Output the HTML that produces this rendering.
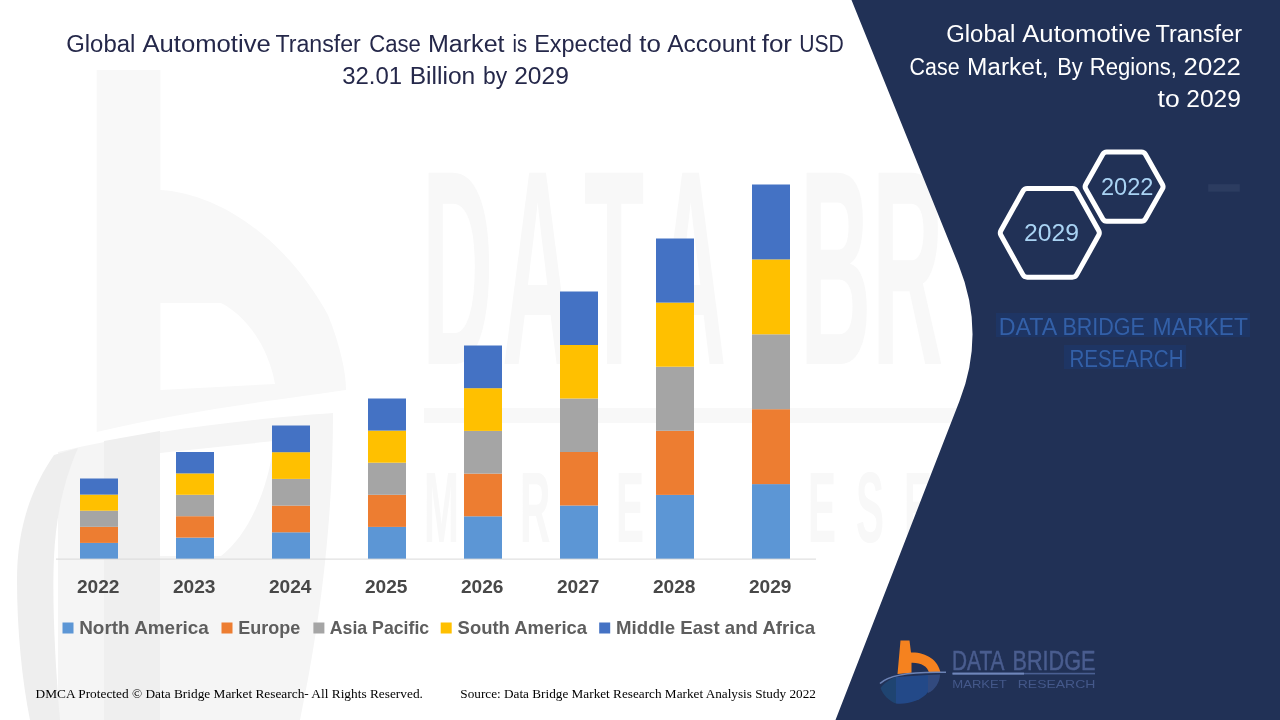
<!DOCTYPE html>
<html lang="en">
<head>
<meta charset="utf-8">
<title>Global Automotive Transfer Case Market</title>
<style>
  html, body { margin: 0; padding: 0; background: #ffffff; }
  body { width: 1280px; height: 720px; overflow: hidden; }
  svg { display: block; }
  .sans { font-family: "Liberation Sans", sans-serif; }
  .serif { font-family: "Liberation Serif", serif; }
</style>
</head>
<body>
<svg width="1280" height="720" viewBox="0 0 1280 720">
  <rect x="0" y="0" width="1280" height="720" fill="#ffffff"/>

  <!-- faint watermark -->
  <g id="watermark" fill="#f8f8f8">
    <path d="M96.7,70 L160.4,70 L160.4,190 C225,194 290,245 328,315 C340,345 346,372 346,390 C290,398 180,412 96.7,432 Z M160.4,303 L221,303 C245,315 268,345 275,384 L160.4,390 Z" fill-rule="evenodd"/>
    <path d="M58,452 C150,430 260,418 333,413 C333,500 325,600 300,720 L58,720 Z M160,453 L274,441 C268,495 245,538 221,556 L160,556 Z" fill-rule="evenodd" fill="#f5f5f5"/>
    <path d="M104,441 L160,431 L160,720 L104,720 Z" fill="#efefef"/>
    <path d="M54,455 C30,490 17,530 17,580 C17,630 22,680 30,720 L60,720 C55,660 52,600 54,557 C56,515 64,480 78,448 Z" fill="#eeeeee"/>
    <g class="sans" font-weight="bold" fill="#f8f8f8">
      <text transform="scale(0.355,1)" x="1188.7 1414.1 1645.1 1845.1 2140.8 2253.5 2456.3" y="364" font-size="278">DATA BR</text>
      <rect x="424" y="408" width="560" height="15"/>
      <text transform="scale(0.42,1)" x="1009.5 1123.8 1238.1 1352.4 1466.7 1581.0 1695.2 1809.5 1923.8 2038.1 2152.4" y="542" font-size="100">MARKET RESE</text>
    </g>
  </g>

  <!-- left title -->
  <g class="sans" fill="#25284a" font-size="23">
    <text y="52.4"><tspan x="66.20" textLength="69.10" lengthAdjust="spacingAndGlyphs">Global</tspan> <tspan x="142.45" textLength="128.35" lengthAdjust="spacingAndGlyphs">Automotive</tspan> <tspan x="275.45" textLength="85.35" lengthAdjust="spacingAndGlyphs">Transfer</tspan> <tspan x="369.20" textLength="51.60" lengthAdjust="spacingAndGlyphs">Case</tspan> <tspan x="427.95" textLength="76.60" lengthAdjust="spacingAndGlyphs">Market</tspan> <tspan x="512.45" textLength="14.60" lengthAdjust="spacingAndGlyphs">is</tspan> <tspan x="534.20" textLength="97.85" lengthAdjust="spacingAndGlyphs">Expected</tspan> <tspan x="639.20" textLength="21.60" lengthAdjust="spacingAndGlyphs">to</tspan> <tspan x="667.20" textLength="88.60" lengthAdjust="spacingAndGlyphs">Account</tspan> <tspan x="761.70" textLength="30.35" lengthAdjust="spacingAndGlyphs">for</tspan> <tspan x="799.20" textLength="44.60" lengthAdjust="spacingAndGlyphs">USD</tspan></text>
    <text y="83.7"><tspan x="342.20" textLength="59.85" lengthAdjust="spacingAndGlyphs">32.01</tspan> <tspan x="409.70" textLength="65.60" lengthAdjust="spacingAndGlyphs">Billion</tspan> <tspan x="482.95" textLength="24.10" lengthAdjust="spacingAndGlyphs">by</tspan> <tspan x="514.20" textLength="54.60" lengthAdjust="spacingAndGlyphs">2029</tspan></text>
  </g>

  <!-- chart -->
  <g id="chart">
    <rect x="80" y="542.9" width="38" height="16.1" fill="#5c96d5"/>
    <rect x="80" y="526.8" width="38" height="16.1" fill="#ed7d31"/>
    <rect x="80" y="510.7" width="38" height="16.1" fill="#a5a5a5"/>
    <rect x="80" y="494.6" width="38" height="16.1" fill="#ffc000"/>
    <rect x="80" y="478.5" width="38" height="16.1" fill="#4472c4"/>
    <rect x="176" y="537.6" width="38" height="21.4" fill="#5c96d5"/>
    <rect x="176" y="516.2" width="38" height="21.4" fill="#ed7d31"/>
    <rect x="176" y="494.8" width="38" height="21.4" fill="#a5a5a5"/>
    <rect x="176" y="473.4" width="38" height="21.4" fill="#ffc000"/>
    <rect x="176" y="452.0" width="38" height="21.4" fill="#4472c4"/>
    <rect x="272" y="532.3" width="38" height="26.7" fill="#5c96d5"/>
    <rect x="272" y="505.6" width="38" height="26.7" fill="#ed7d31"/>
    <rect x="272" y="478.9" width="38" height="26.7" fill="#a5a5a5"/>
    <rect x="272" y="452.2" width="38" height="26.7" fill="#ffc000"/>
    <rect x="272" y="425.5" width="38" height="26.7" fill="#4472c4"/>
    <rect x="368" y="526.9" width="38" height="32.1" fill="#5c96d5"/>
    <rect x="368" y="494.8" width="38" height="32.1" fill="#ed7d31"/>
    <rect x="368" y="462.7" width="38" height="32.1" fill="#a5a5a5"/>
    <rect x="368" y="430.6" width="38" height="32.1" fill="#ffc000"/>
    <rect x="368" y="398.5" width="38" height="32.1" fill="#4472c4"/>
    <rect x="464" y="516.3" width="38" height="42.7" fill="#5c96d5"/>
    <rect x="464" y="473.6" width="38" height="42.7" fill="#ed7d31"/>
    <rect x="464" y="430.9" width="38" height="42.7" fill="#a5a5a5"/>
    <rect x="464" y="388.2" width="38" height="42.7" fill="#ffc000"/>
    <rect x="464" y="345.5" width="38" height="42.7" fill="#4472c4"/>
    <rect x="560" y="505.5" width="38" height="53.5" fill="#5c96d5"/>
    <rect x="560" y="452.0" width="38" height="53.5" fill="#ed7d31"/>
    <rect x="560" y="398.5" width="38" height="53.5" fill="#a5a5a5"/>
    <rect x="560" y="345.0" width="38" height="53.5" fill="#ffc000"/>
    <rect x="560" y="291.5" width="38" height="53.5" fill="#4472c4"/>
    <rect x="656" y="494.9" width="38" height="64.1" fill="#5c96d5"/>
    <rect x="656" y="430.8" width="38" height="64.1" fill="#ed7d31"/>
    <rect x="656" y="366.7" width="38" height="64.1" fill="#a5a5a5"/>
    <rect x="656" y="302.6" width="38" height="64.1" fill="#ffc000"/>
    <rect x="656" y="238.5" width="38" height="64.1" fill="#4472c4"/>
    <rect x="752" y="484.1" width="38" height="74.9" fill="#5c96d5"/>
    <rect x="752" y="409.2" width="38" height="74.9" fill="#ed7d31"/>
    <rect x="752" y="334.3" width="38" height="74.9" fill="#a5a5a5"/>
    <rect x="752" y="259.4" width="38" height="74.9" fill="#ffc000"/>
    <rect x="752" y="184.5" width="38" height="74.9" fill="#4472c4"/>
    <rect x="56" y="558.6" width="760" height="1" fill="#d9d9d9"/>
  </g>
  <g class="sans" font-weight="bold" fill="#484848" font-size="18">
    <text x="76.9" y="592.8" textLength="42.6" lengthAdjust="spacingAndGlyphs">2022</text>
    <text x="172.9" y="592.8" textLength="42.6" lengthAdjust="spacingAndGlyphs">2023</text>
    <text x="268.9" y="592.8" textLength="42.6" lengthAdjust="spacingAndGlyphs">2024</text>
    <text x="364.9" y="592.8" textLength="42.6" lengthAdjust="spacingAndGlyphs">2025</text>
    <text x="460.9" y="592.8" textLength="42.6" lengthAdjust="spacingAndGlyphs">2026</text>
    <text x="556.9" y="592.8" textLength="42.6" lengthAdjust="spacingAndGlyphs">2027</text>
    <text x="652.9" y="592.8" textLength="42.6" lengthAdjust="spacingAndGlyphs">2028</text>
    <text x="748.9" y="592.8" textLength="42.6" lengthAdjust="spacingAndGlyphs">2029</text>
  </g>
  <g class="sans" font-weight="bold" fill="#5e5e5e" font-size="17.8">
    <rect x="62.5" y="622.5" width="11" height="11" fill="#5c96d5"/>
    <text x="79.2" y="633.8" textLength="129.6" lengthAdjust="spacingAndGlyphs">North America</text>
    <rect x="221.5" y="622.5" width="11" height="11" fill="#ed7d31"/>
    <text x="238.2" y="633.8" textLength="62.0" lengthAdjust="spacingAndGlyphs">Europe</text>
    <rect x="313.4" y="622.5" width="11" height="11" fill="#a5a5a5"/>
    <text x="329.8" y="633.8" textLength="99.4" lengthAdjust="spacingAndGlyphs">Asia Pacific</text>
    <rect x="440.7" y="622.5" width="11" height="11" fill="#ffc000"/>
    <text x="457.6" y="633.8" textLength="129.5" lengthAdjust="spacingAndGlyphs">South America</text>
    <rect x="599.2" y="622.5" width="11" height="11" fill="#4472c4"/>
    <text x="616.1" y="633.8" textLength="199.1" lengthAdjust="spacingAndGlyphs">Middle East and Africa</text>
  </g>

  <!-- right panel -->
  <path id="panel" fill="#213156" d="M851.5,0 L958.6,265 Q986,333 959.5,401 L835.5,720 L1280,720 L1280,0 Z"/>

  <rect x="1208.2" y="184.2" width="31.6" height="7.5" fill="#2c3c60"/>

  <!-- right title -->
  <g class="sans" fill="#ffffff" font-size="23">
    <text y="42"><tspan x="946.20" textLength="69.10" lengthAdjust="spacingAndGlyphs">Global</tspan> <tspan x="1022.20" textLength="128.60" lengthAdjust="spacingAndGlyphs">Automotive</tspan> <tspan x="1155.45" textLength="86.60" lengthAdjust="spacingAndGlyphs">Transfer</tspan></text>
    <text y="74.8"><tspan x="909.60" textLength="50.00" lengthAdjust="spacingAndGlyphs">Case</tspan> <tspan x="967.00" textLength="81.50" lengthAdjust="spacingAndGlyphs">Market,</tspan> <tspan x="1057.20" textLength="25.40" lengthAdjust="spacingAndGlyphs">By</tspan> <tspan x="1089.80" textLength="87.20" lengthAdjust="spacingAndGlyphs">Regions,</tspan> <tspan x="1183.60" textLength="57.20" lengthAdjust="spacingAndGlyphs">2022</tspan></text>
    <text y="106.8"><tspan x="1157.60" textLength="22.10" lengthAdjust="spacingAndGlyphs">to</tspan> <tspan x="1186.30" textLength="54.50" lengthAdjust="spacingAndGlyphs">2029</tspan></text>
  </g>

  <!-- hexagons -->
  <g fill="none" stroke="#ffffff" stroke-width="5" stroke-linejoin="round">
    <path d="M1000.96,235.33 A5,5 0 0 1 1000.96,230.47 L1022.87,191.17 A5,5 0 0 1 1027.24,188.60 L1072.36,188.60 A5,5 0 0 1 1076.73,191.17 L1098.64,230.47 A5,5 0 0 1 1098.64,235.33 L1076.73,274.63 A5,5 0 0 1 1072.36,277.20 L1027.24,277.20 A5,5 0 0 1 1022.87,274.63 Z"/>
    <path d="M1085.75,188.87 A4.5,4.5 0 0 1 1085.75,184.43 L1102.81,154.28 A4.5,4.5 0 0 1 1106.72,152.00 L1141.48,152.00 A4.5,4.5 0 0 1 1145.39,154.28 L1162.45,184.43 A4.5,4.5 0 0 1 1162.45,188.87 L1145.39,219.02 A4.5,4.5 0 0 1 1141.48,221.30 L1106.72,221.30 A4.5,4.5 0 0 1 1102.81,219.02 Z"/>
  </g>
  <g class="sans" fill="#a9d3f3" font-size="23" text-anchor="middle">
    <text x="1051.6" y="240.8" textLength="55" lengthAdjust="spacingAndGlyphs">2029</text>
    <text x="1127.2" y="195" textLength="52.5" lengthAdjust="spacingAndGlyphs">2022</text>
  </g>

  <!-- brand text -->
  <rect x="996" y="313" width="254" height="24" fill="#1b3b76" opacity="0.45"/>
  <rect x="1064" y="345" width="122" height="24" fill="#1b3b76" opacity="0.45"/>
  <g class="sans" fill="#3360a8" font-size="23">
    <text y="334.8"><tspan x="998.80" textLength="57.20" lengthAdjust="spacingAndGlyphs">DATA</tspan> <tspan x="1062.40" textLength="82.40" lengthAdjust="spacingAndGlyphs">BRIDGE</tspan> <tspan x="1152.60" textLength="95.40" lengthAdjust="spacingAndGlyphs">MARKET</tspan></text>
    <text y="367.1"><tspan x="1069.40" textLength="114.10" lengthAdjust="spacingAndGlyphs">RESEARCH</tspan></text>
  </g>

  <!-- bottom logo -->
  <g id="logo">
    <path d="M900.5,640.5 L909.5,640.5 L911,652.5 C926,652 938,660 940.5,672.5 L929,672.5 C927.5,666.5 921,662.5 911.5,662.8 L911.5,672.8 L897.5,674 Z" fill="#f5821f"/>
    <path d="M896,677 L928,675 L928,692 C922,701 905,705 896,703.5 Z" fill="#244c8e" opacity="0.9"/>
    <path d="M880.5,688 C883,695 889,701 896,703.5 L896,677 C890,679 884,683 880.5,688 Z" fill="#1f4a78" opacity="0.8"/>
    <path d="M928,675 L940,674.5 C940,682 935,690 928,693 Z" fill="#3a5590" opacity="0.7"/>
    <path d="M880,683.5 C888,675.5 912,671.5 946,672.3" fill="none" stroke="#6c83b5" stroke-width="1.6"/>
    <g class="sans" fill="#4a5d8f">
      <text x="952" y="670" font-size="28" stroke="#4a5d8f" stroke-width="0.5" textLength="52.5" lengthAdjust="spacingAndGlyphs">DATA</text>
      <text x="1012.5" y="670" font-size="28" stroke="#4a5d8f" stroke-width="0.5" textLength="83" lengthAdjust="spacingAndGlyphs">BRIDGE</text>
      <text x="952.3" y="687.5" font-size="10.5" fill="#44588a" textLength="54.5" lengthAdjust="spacingAndGlyphs">MARKET</text>
      <text x="1017.8" y="687.5" font-size="10.5" fill="#44588a" textLength="77.5" lengthAdjust="spacingAndGlyphs">RESEARCH</text>
    </g>
    <rect x="952.5" y="672.8" width="142.5" height="1.6" fill="#4a5f92"/>
    <rect x="952.5" y="672.6" width="71.5" height="2" fill="#6f86ba"/>
  </g>

  <!-- footer -->
  <g class="serif" fill="#000000" font-size="13.33">
    <text x="35.6" y="697.9" textLength="387.3" lengthAdjust="spacingAndGlyphs">DMCA Protected © Data Bridge Market Research- All Rights Reserved.</text>
    <text x="460.3" y="698.2" textLength="355.6" lengthAdjust="spacingAndGlyphs">Source: Data Bridge Market Research Market Analysis Study 2022</text>
  </g>
</svg>
</body>
</html>
